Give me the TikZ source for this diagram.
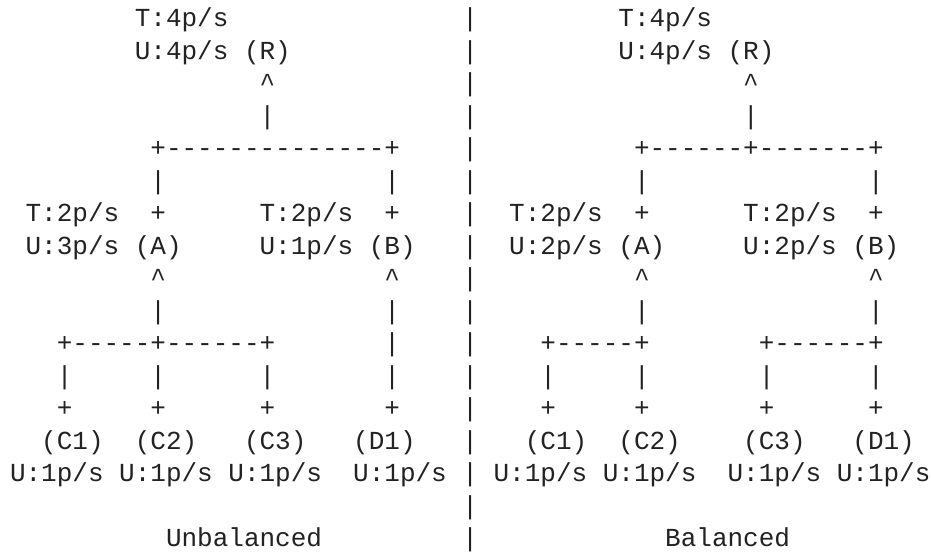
\documentclass[tikz,border=0pt]{standalone}
\usepackage{fontspec}
\setmonofont{Liberation Mono}
\definecolor{ink}{RGB}{34,34,34}
\tikzset{
  tok/.style={anchor=base west, inner sep=0pt, outer sep=0pt, text=ink,
    font=\ttfamily\fontsize{26}{32.5}\selectfont}
}
\newcommand\tk[4]{\node[tok] (#1) at ({10+#3*15.6},{552-(26.7+(#2-1)*32.5)}) {#4};}
\begin{document}
\begin{tikzpicture}[x=1pt,y=1pt]
\fill[white] (0,0) rectangle (931,552);
\useasboundingbox (0,0) rectangle (931,552);
% separator column
\foreach \r in {1,...,17} {\tk{sep\r}{\r}{29}{|}}
% row 1
\tk{LRt}{1}{8}{T:4p/s}
\tk{RRt}{1}{39}{T:4p/s}
% row 2
\tk{LRu}{2}{8}{U:4p/s}
\tk{LR}{2}{15}{(R)}
\tk{RRu}{2}{39}{U:4p/s}
\tk{RR}{2}{46}{(R)}
% row 3-4
\tk{LRc}{3}{16}{\textasciicircum}
\tk{RRc}{3}{47}{\textasciicircum}
\tk{LRv}{4}{16}{|}
\tk{RRv}{4}{47}{|}
% row 5
\tk{LRbar}{5}{9}{+--------------+}
\tk{RRbar}{5}{40}{+------+-------+}
% row 6
\tk{LAv1}{6}{9}{|}
\tk{LBv1}{6}{24}{|}
\tk{RAv1}{6}{40}{|}
\tk{RBv1}{6}{55}{|}
% row 7
\tk{LAt}{7}{1}{T:2p/s}
\tk{LAp}{7}{9}{+}
\tk{LBt}{7}{16}{T:2p/s}
\tk{LBp}{7}{24}{+}
\tk{RAt}{7}{32}{T:2p/s}
\tk{RAp}{7}{40}{+}
\tk{RBt}{7}{47}{T:2p/s}
\tk{RBp}{7}{55}{+}
% row 8
\tk{LAu}{8}{1}{U:3p/s}
\tk{LA}{8}{8}{(A)}
\tk{LBu}{8}{16}{U:1p/s}
\tk{LB}{8}{23}{(B)}
\tk{RAu}{8}{32}{U:2p/s}
\tk{RA}{8}{39}{(A)}
\tk{RBu}{8}{47}{U:2p/s}
\tk{RB}{8}{54}{(B)}
% row 9
\tk{LAc}{9}{9}{\textasciicircum}
\tk{LBc}{9}{24}{\textasciicircum}
\tk{RAc}{9}{40}{\textasciicircum}
\tk{RBc}{9}{55}{\textasciicircum}
% row 10
\tk{LAv2}{10}{9}{|}
\tk{LBv2}{10}{24}{|}
\tk{RAv2}{10}{40}{|}
\tk{RBv2}{10}{55}{|}
% row 11
\tk{LAbar}{11}{3}{+-----+------+}
\tk{LBv3}{11}{24}{|}
\tk{RAbar}{11}{34}{+-----+}
\tk{RBbar}{11}{48}{+------+}
% row 12
\tk{LC1v}{12}{3}{|}
\tk{LC2v}{12}{9}{|}
\tk{LC3v}{12}{16}{|}
\tk{LD1v}{12}{24}{|}
\tk{RC1v}{12}{34}{|}
\tk{RC2v}{12}{40}{|}
\tk{RC3v}{12}{48}{|}
\tk{RD1v}{12}{55}{|}
% row 13
\tk{LC1p}{13}{3}{+}
\tk{LC2p}{13}{9}{+}
\tk{LC3p}{13}{16}{+}
\tk{LD1p}{13}{24}{+}
\tk{RC1p}{13}{34}{+}
\tk{RC2p}{13}{40}{+}
\tk{RC3p}{13}{48}{+}
\tk{RD1p}{13}{55}{+}
% row 14
\tk{LC1}{14}{2}{(C1)}
\tk{LC2}{14}{8}{(C2)}
\tk{LC3}{14}{15}{(C3)}
\tk{LD1}{14}{22}{(D1)}
\tk{RC1}{14}{33}{(C1)}
\tk{RC2}{14}{39}{(C2)}
\tk{RC3}{14}{47}{(C3)}
\tk{RD1}{14}{54}{(D1)}
% row 15
\tk{LC1u}{15}{0}{U:1p/s}
\tk{LC2u}{15}{7}{U:1p/s}
\tk{LC3u}{15}{14}{U:1p/s}
\tk{LD1u}{15}{22}{U:1p/s}
\tk{RC1u}{15}{31}{U:1p/s}
\tk{RC2u}{15}{38}{U:1p/s}
\tk{RC3u}{15}{46}{U:1p/s}
\tk{RD1u}{15}{53}{U:1p/s}
% row 17
\tk{Lcap}{17}{10}{Unbalanced}
\tk{Rcap}{17}{42}{Balanced}
\end{tikzpicture}
\end{document}
